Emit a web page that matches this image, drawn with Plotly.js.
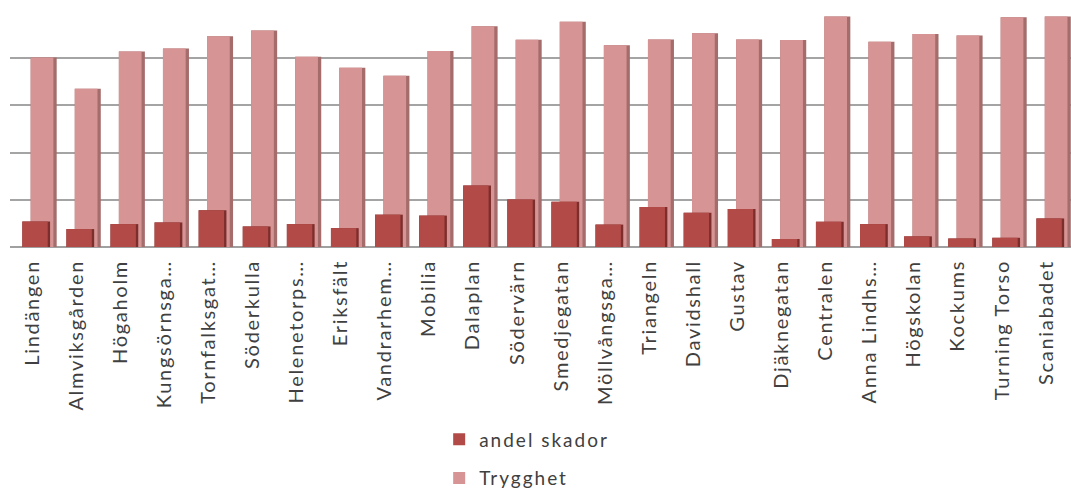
<!DOCTYPE html>
<html>
<head>
<meta charset="utf-8">
<script src="https://cdn.plot.ly/plotly-3.0.1.min.js"></script>
<style>
  html, body { margin: 0; padding: 0; background: #ffffff; }
  #chart { width: 1071px; height: 490px; }
  #chart .xtick text { letter-spacing: 1.7px; }
  .legendtext { letter-spacing: 2px; }
</style>
</head>
<body>
<div id="chart"></div>
<script>
// Districts along the x axis
const categories = [
  "Lindängen", "Almviksgården", "Högaholm", "Kungsörnsga…", "Tornfalksgat…",
  "Söderkulla", "Helenetorps…", "Eriksfält", "Vandrarhem…", "Mobilia",
  "Dalaplan", "Södervärn", "Smedjegatan", "Möllvångsga…", "Triangeln",
  "Davidshall", "Gustav", "Djäknegatan", "Centralen", "Anna Lindhs…",
  "Högskolan", "Kockums", "Turning Torso", "Scaniabadet"
];

// Share of injuries per district
const andelSkador = [10.8, 7.6, 9.7, 10.4, 15.6, 8.7, 9.7, 8.0, 13.7, 13.3,
  26.1, 20.1, 19.2, 9.5, 16.9, 14.5, 16.1, 3.4, 10.7, 9.7, 4.5, 3.6, 3.9, 12.1];

// Perceived safety per district
const trygghet = [80.3, 67.0, 82.8, 84.1, 89.3, 91.7, 80.6, 75.9, 72.5, 83.0,
  93.5, 87.8, 95.4, 85.5, 87.9, 90.6, 87.9, 87.7, 97.6, 86.9, 90.2, 89.6, 97.3, 97.6];

// Colours: front face and shaded side of each column
const darkFace = "#b24b48", darkSide = "#7c2e2c";
const pinkFace = "#d79494", pinkSide = "#a56c6c";

// Each series is drawn as a shaded side strip behind a front face,
// giving the columns a bit of depth; the rose series sits behind.
function column(name, values, color, left, right, opts) {
  return Object.assign({
    type: "bar",
    x: categories,
    y: values,
    name: name,
    offset: left,
    width: right - left,
    marker: { color: color, line: { width: 0 } },
    hoverinfo: "skip"
  }, opts || {});
}

const traces = [
  column("Trygghet (sida)", trygghet, pinkSide, -0.03, 0.56, { showlegend: false, legendgroup: "b" }),
  column("Trygghet", trygghet, pinkFace, -0.03, 0.485, { legendrank: 2, legendgroup: "b" }),
  column("andel skador (sida)", andelSkador, darkSide, -0.22, 0.41, { showlegend: false, legendgroup: "a" }),
  column("andel skador", andelSkador, darkFace, -0.22, 0.356, { legendrank: 1, legendgroup: "a" })
];

const layout = {
  width: 1071,
  height: 490,
  margin: { l: 10, r: 0, t: 10, b: 243, pad: 0, autoexpand: false },
  paper_bgcolor: "#ffffff",
  plot_bgcolor: "#ffffff",
  barmode: "overlay",
  showlegend: true,
  font: { family: "Lato, 'Open Sans', sans-serif", color: "#404040" },
  xaxis: {
    type: "category",
    range: [-0.499, 23.565],
    tickangle: -90,
    ticks: "",
    ticklabelstandoff: 8,
    tickfont: { size: 20, color: "#404040", family: "Lato, sans-serif" },
    showgrid: false,
    showline: false,
    zeroline: false,
    fixedrange: true,
    automargin: false
  },
  yaxis: {
    range: [0, 100.4],
    dtick: 20,
    tick0: 0,
    showticklabels: false,
    ticks: "",
    showgrid: true,
    gridcolor: "#a4a4a4",
    gridwidth: 2,
    zeroline: true,
    zerolinecolor: "#a0a0a0",
    zerolinewidth: 2,
    showline: false,
    fixedrange: true,
    automargin: false
  },
  legend: {
    orientation: "v",
    x: 0.4045,
    xanchor: "left",
    y: -0.7315,
    yanchor: "top",
    traceorder: "grouped",
    tracegroupgap: 11,
    font: { size: 19, color: "#404040", family: "Lato, sans-serif" },
    bgcolor: "rgba(0,0,0,0)"
  }
};

Plotly.newPlot("chart", traces, layout, { displayModeBar: false, staticPlot: true });
</script>
</body>
</html>
